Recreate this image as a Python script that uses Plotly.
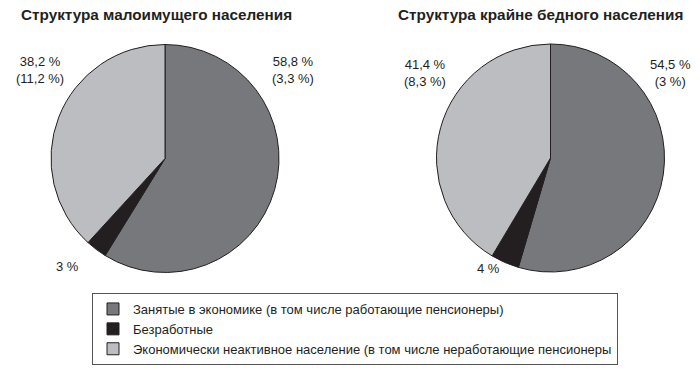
import plotly.graph_objects as go

categories = [
    "Занятые в экономике (в том числе работающие пенсионеры)",
    "Безработные",
    "Экономически неактивное население (в том числе неработающие пенсионеры",
]
low_income_values = [58.8, 3.0, 38.2]
extreme_poor_values = [54.5, 4.0, 41.4]
titles = ["Структура малоимущего населения", "Структура крайне бедного населения"]
low_income_labels = ["58,8 %<br>(3,3 %)", "3 %", "38,2 %<br>(11,2 %)"]
extreme_poor_labels = ["54,5 %<br>(3 %)", "4 %", "41,4 %<br>(8,3 %)"]

colors = ["#77787b", "#231f20", "#bcbdc0"]
FONT = "Liberation Sans"
W, H = 700, 376

fig = go.Figure()

def px_domain(cx, cy, r):
    return dict(x=[(cx - r) / W, (cx + r) / W], y=[(H - cy - r) / H, (H - cy + r) / H])

fig.add_trace(go.Pie(
    labels=categories, values=low_income_values, sort=False, direction="clockwise",
    rotation=0, textinfo="none", hoverinfo="label+value",
    marker=dict(colors=colors, line=dict(color="#231f20", width=1)),
    domain=px_domain(165, 158.5, 114), showlegend=True,
))
fig.add_trace(go.Pie(
    labels=categories, values=extreme_poor_values, sort=False, direction="clockwise",
    rotation=0, textinfo="none", hoverinfo="label+value",
    marker=dict(colors=colors, line=dict(color="#231f20", width=1)),
    domain=px_domain(550.5, 158, 114), showlegend=False,
))

annotations = []
annotations.append(dict(text="<b>" + titles[0] + "</b>", x=19 / W, y=1 - 15 / H, xref="paper", yref="paper",
                        xanchor="left", yanchor="middle", showarrow=False,
                        font=dict(family=FONT, size=15.3, color="#231f20")))
annotations.append(dict(text="<b>" + titles[1] + "</b>", x=396 / W, y=1 - 15 / H, xref="paper", yref="paper",
                        xanchor="left", yanchor="middle", showarrow=False,
                        font=dict(family=FONT, size=15.3, color="#231f20")))

label_pos_left = [(293, 70), (67, 266), (40, 70)]
label_pos_right = [(670, 73), (488, 268), (425, 73)]
for txt, (x, y) in zip(low_income_labels, label_pos_left):
    annotations.append(dict(text=txt, x=x / W, y=1 - y / H, xref="paper", yref="paper",
                            xanchor="center", yanchor="middle", showarrow=False, align="center",
                            font=dict(family=FONT, size=13, color="#231f20")))
for txt, (x, y) in zip(extreme_poor_labels, label_pos_right):
    annotations.append(dict(text=txt, x=x / W, y=1 - y / H, xref="paper", yref="paper",
                            xanchor="center", yanchor="middle", showarrow=False, align="center",
                            font=dict(family=FONT, size=13, color="#231f20")))

fig.update_layout(
    width=W, height=H,
    margin=dict(l=0, r=0, t=0, b=0),
    paper_bgcolor="white", plot_bgcolor="white",
    annotations=annotations,
    legend=dict(
        x=92 / W, y=1 - 293 / H, xanchor="left", yanchor="top",
        orientation="v", traceorder="normal",
        bordercolor="#555555", borderwidth=1, bgcolor="white",
        font=dict(family=FONT, size=13, color="#231f20"),
        itemclick=False, itemdoubleclick=False,
    ),
)

fig.write_html("out.html", config={"displayModeBar": False},
               post_script="document.body.style.margin='0';")
